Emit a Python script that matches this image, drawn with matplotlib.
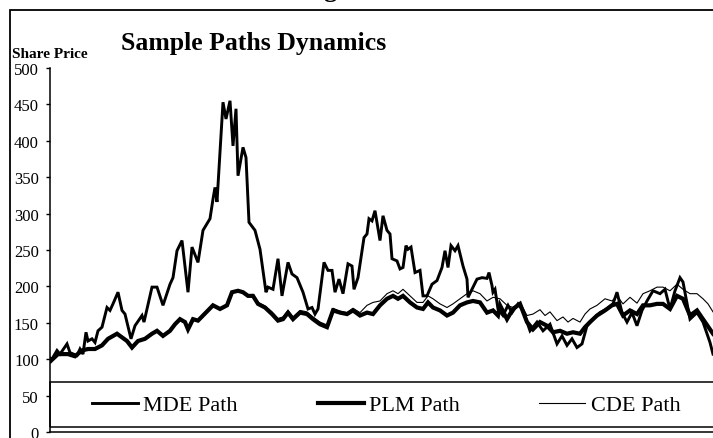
import matplotlib
matplotlib.use('Agg')
import matplotlib.pyplot as plt
from matplotlib.patches import Rectangle

# ---- data (day index, share price) ----
mde_day = [0, 1, 7, 10, 17, 20, 27, 30, 33, 36, 38, 42, 45, 48, 52, 57, 60, 63, 68, 72, 75, 81, 85, 92, 94,
           102, 107, 113, 120, 123, 127, 132, 138, 142, 148, 153, 160, 163, 165, 167, 173, 176, 180, 183, 186,
           188, 193, 196, 199, 205, 210, 216, 218, 223, 228, 232, 238, 242, 247, 253, 258, 262, 265, 268, 274,
           278, 282, 285, 289, 293, 298, 302, 304, 308, 314, 317, 319, 322, 325, 330, 333, 337, 340, 342, 347,
           350, 353, 356, 358, 361, 365, 370, 373, 377, 382, 387, 392, 395, 398, 401, 405, 408, 413, 417, 418,
           422, 427, 432, 437, 439, 442, 443, 445, 448, 453, 458, 462, 468, 473, 480, 487, 493, 500, 507, 512,
           517, 522, 527, 532, 537, 543, 550, 557, 563, 567, 572, 577, 582, 587, 592, 597, 603, 610, 615, 620,
           625, 630, 633, 640, 647, 653, 660, 663]
mde_val = [100, 98, 112, 107, 121, 109, 105, 114, 107, 137, 125, 128, 123, 139, 144, 171, 167, 176, 192, 167, 162,
           128, 146, 160, 151, 199, 199, 174, 203, 212, 249, 263, 192, 254, 233, 277, 293, 320, 336, 316, 453, 430,
           455, 393, 444, 352, 391, 377, 288, 277, 251, 192, 199, 196, 238, 187, 233, 217, 212, 192, 169, 171, 162,
           169, 233, 222, 222, 192, 210, 190, 231, 228, 196, 212, 267, 272, 293, 290, 304, 263, 297, 277, 272, 238,
           235, 224, 226, 256, 251, 254, 219, 222, 187, 187, 203, 208, 226, 249, 226, 256, 249, 256, 228, 210, 185,
           196, 210, 212, 211, 219, 201, 192, 196, 169, 160, 174, 164, 176, 167, 139, 151, 139, 148, 121, 132, 119,
           128, 116, 121, 146, 155, 164, 169, 176, 192, 164, 151, 164, 146, 167, 180, 194, 190, 196, 169, 194, 212,
           206, 155, 164, 151, 123, 107]

plm_day = [0, 1, 8, 18, 25, 32, 38, 45, 52, 58, 67, 72, 77, 82, 88, 95, 102, 107, 113, 120, 125, 130, 135, 138,
           143, 148, 153, 158, 163, 170, 177, 182, 188, 193, 198, 203, 208, 215, 222, 228, 233, 238, 243, 250,
           257, 263, 270, 277, 283, 290, 297, 303, 310, 317, 323, 330, 337, 343, 348, 353, 360, 367, 373, 378,
           383, 390, 397, 403, 410, 417, 423, 430, 437, 443, 448, 450, 457, 463, 470, 477, 483, 490, 497, 503,
           510, 517, 523, 530, 535, 540, 547, 555, 562, 567, 573, 580, 587, 593, 600, 607, 613, 620, 627, 633,
           640, 647, 653, 660, 663]
plm_val = [100, 98, 107, 107, 104, 112, 114, 114, 119, 128, 135, 130, 125, 116, 125, 128, 135, 139, 132, 139, 148,
           155, 151, 141, 155, 153, 160, 167, 174, 169, 174, 192, 194, 192, 187, 187, 176, 171, 162, 153, 155, 164,
           155, 164, 162, 155, 148, 144, 167, 164, 162, 167, 160, 164, 162, 174, 183, 187, 183, 187, 178, 171, 169,
           178, 171, 167, 160, 164, 174, 178, 180, 178, 164, 167, 160, 174, 155, 169, 176, 151, 141, 151, 146, 137,
           139, 135, 137, 135, 144, 151, 160, 167, 174, 176, 160, 167, 162, 174, 174, 176, 176, 169, 187, 183, 160,
           167, 155, 141, 135]

cde_day = [0, 1, 8, 18, 25, 32, 38, 45, 52, 58, 67, 72, 77, 82, 88, 95, 102, 107, 113, 120, 125, 130, 135, 138,
           143, 148, 153, 158, 163, 170, 177, 182, 188, 193, 198, 203, 208, 215, 222, 228, 233, 238, 243, 250,
           257, 263, 270, 277, 283, 290, 297, 303, 310, 317, 323, 330, 337, 343, 348, 353, 360, 367, 373, 378,
           383, 390, 397, 403, 410, 417, 423, 430, 437, 443, 450, 457, 463, 470, 477, 483, 490, 495, 500, 507,
           513, 518, 523, 530, 535, 540, 547, 555, 562, 567, 573, 580, 587, 593, 600, 607, 613, 620, 627, 633,
           640, 647, 653, 658, 663]
cde_val = [100, 99, 108, 108, 105, 113, 115, 115, 120, 129, 136, 131, 126, 117, 126, 129, 136, 140, 133, 140, 149,
           156, 152, 142, 156, 154, 161, 168, 175, 170, 175, 193, 195, 193, 188, 189, 178, 173, 165, 156, 158, 167,
           158, 167, 165, 158, 151, 147, 170, 166, 164, 170, 164, 174, 178, 180, 190, 194, 190, 196, 187, 178, 178,
           187, 183, 176, 171, 176, 183, 190, 194, 190, 180, 185, 183, 174, 171, 178, 160, 162, 168, 160, 165, 153,
           158, 151, 156, 151, 162, 169, 174, 183, 180, 187, 176, 185, 177, 190, 194, 199, 199, 194, 203, 196, 190,
           190, 183, 176, 165]

y_ticks = [0, 50, 100, 150, 200, 250, 300, 350, 400, 450, 500]
series_labels = ['MDE Path', 'PLM Path', 'CDE Path']

plt.rcParams['font.family'] = ['Liberation Serif', 'DejaVu Serif']

W, H = 713, 439
fig = plt.figure(figsize=(W / 100, H / 100), dpi=100)
ax = fig.add_axes([50 / W, 6 / H, 666 / W, 364 / H])

ax.plot(mde_day, mde_val, color='black', lw=2.1, label=series_labels[0], solid_joinstyle='miter')
ax.plot(plm_day, plm_val, color='black', lw=3.0, label=series_labels[1], solid_joinstyle='miter')
ax.plot(cde_day, cde_val, color='black', lw=0.8, label=series_labels[2])

ax.set_xlim(0, 666)
ax.set_ylim(0, 500)
ax.set_yticks(y_ticks)
ax.set_xticks([])
for s in ['top', 'right']:
    ax.spines[s].set_visible(False)
ax.spines['left'].set_linewidth(1.1)
ax.spines['bottom'].set_linewidth(1.1)
ax.tick_params(axis='y', direction='out', length=3, width=1, pad=5.0, labelsize=12, colors='black')

# legend frame spanning the width of the plot
ax.add_patch(Rectangle((0, 6.9), 720, 61.8, fill=False, lw=1.1, edgecolor='black', clip_on=False))
leg = ax.legend(loc='center left', bbox_to_anchor=(42 / 666, 37 / 500), ncol=3, frameon=False,
                fontsize=16, handlelength=2.07, handletextpad=0.23, columnspacing=3.6,
                borderpad=0, borderaxespad=0)

fig.text(254 / W, 1 - 50 / H, 'Sample Paths Dynamics', ha='center', va='baseline',
         fontsize=18.5, fontweight='bold')
fig.text(12 / W, 1 - 58 / H, 'Share Price', ha='left', va='baseline', fontsize=11, fontweight='bold')
fig.text(330 / W, 1 + 3 / H, 'g', ha='center', va='baseline', fontsize=19, fontweight='bold')

# outer chart border
fig.patches.append(Rectangle((9.5 / W, -0.1), 1.0, (H - 10.5) / H + 0.1, transform=fig.transFigure,
                             fill=False, lw=1.3, edgecolor='black'))

fig.savefig('out.png', dpi=100)
